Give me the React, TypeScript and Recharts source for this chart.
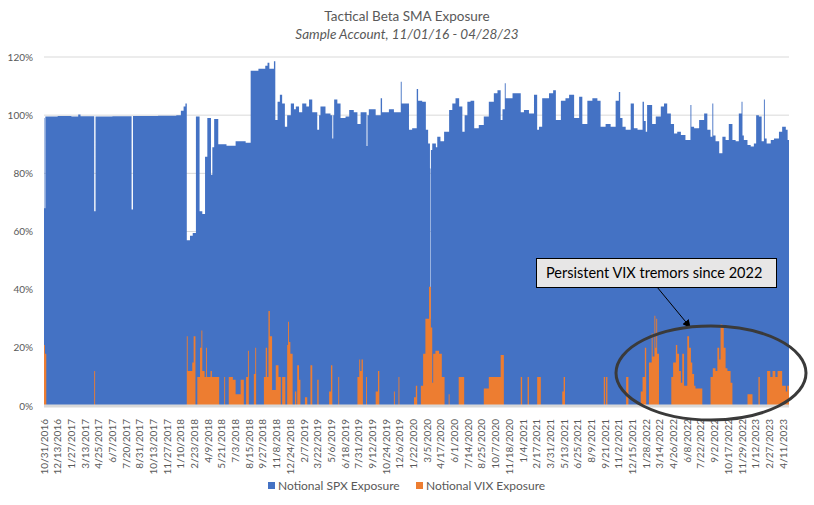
import React from 'react';
import {
  ComposedChart,
  Area,
  XAxis,
  YAxis,
  CartesianGrid
} from 'recharts';

// tick labels, one every 30 trading days
const tickLabels = [
  '10/31/2016', '12/13/2016', '1/27/2017', '3/13/2017', '4/25/2017', '6/7/2017', '7/20/2017',
  '8/31/2017', '10/13/2017', '11/27/2017', '1/10/2018', '2/23/2018', '4/9/2018', '5/21/2018',
  '7/3/2018', '8/15/2018', '9/27/2018', '11/8/2018', '12/24/2018', '2/7/2019', '3/22/2019',
  '5/6/2019', '6/18/2019', '7/31/2019', '9/12/2019', '10/24/2019', '12/6/2019', '1/22/2020',
  '3/5/2020', '4/17/2020', '6/1/2020', '7/14/2020', '8/25/2020', '10/7/2020', '11/18/2020',
  '1/4/2021', '2/17/2021', '3/31/2021', '5/13/2021', '6/25/2021', '8/9/2021', '9/21/2021',
  '11/2/2021', '12/15/2021', '1/28/2022', '3/14/2022', '4/26/2022', '6/8/2022', '7/22/2022',
  '9/2/2022', '10/17/2022', '11/29/2022', '1/12/2023', '2/27/2023', '4/11/2023'
];

// Notional SPX exposure (%), trading day index -> value (held until next point)
const spxDays = [
  0, 1, 3, 30, 60, 75, 80, 110, 113, 150, 192, 195, 250, 290, 300, 306, 310, 313, 320, 326,
  333, 341, 347, 353, 358, 366, 369, 373, 382, 400, 420, 442, 453, 470, 485, 490, 494, 504, 507, 512,
  517, 522, 528, 533, 541, 548, 552, 559, 566, 575, 581, 588, 599, 603, 606, 617, 628, 632, 634, 636,
  643, 650, 661, 669, 679, 687, 694, 707, 709, 712, 727, 738, 741, 745, 756, 767, 782, 784, 793, 800,
  807, 817, 820, 829, 837, 842, 846, 847, 848, 851, 859, 862, 869, 877, 888, 895, 902, 910, 917, 922,
  928, 935, 943, 953, 964, 975, 986, 994, 1001, 1005, 1010, 1012, 1027, 1038, 1045, 1052, 1063, 1074, 1081, 1085,
  1092, 1107, 1116, 1122, 1133, 1143, 1151, 1162, 1173, 1180, 1191, 1202, 1213, 1220, 1231, 1242, 1253, 1260, 1263, 1268,
  1275, 1286, 1293, 1301, 1312, 1315, 1319, 1322, 1333, 1341, 1352, 1359, 1366, 1374, 1381, 1388, 1396, 1406, 1417, 1419,
  1425, 1436, 1447, 1454, 1461, 1465, 1467, 1472, 1480, 1487, 1494, 1501, 1509, 1516, 1523, 1529, 1531, 1534, 1542, 1549,
  1556, 1561, 1567, 1573, 1578, 1580, 1584, 1593, 1600, 1611, 1618, 1626, 1630, 1633
];
const spxValues = [
  99, 68, 99.5, 99.7, 99.5, 100.2, 99.6, 67, 99.5, 99.6, 67.6, 99.7, 99.8, 100, 101.5, 103, 104, 57, 58.5, 59.5,
  99.5, 67, 66, 85.7, 99, 79.5, 89, 98.7, 90, 89.5, 91, 90.5, 115.3, 116, 117, 118, 116, 118.5, 98.3, 104.6,
  107, 104, 96, 100, 104, 102, 103, 101, 104, 103, 105.4, 101, 95, 100, 103, 100.6, 100, 92, 100, 105.4,
  104, 99, 99.5, 101.8, 101, 97, 101, 89.4, 100, 102, 100, 105.8, 101, 101, 102, 101, 111.5, 104, 104, 95,
  95.5, 109, 105, 104.6, 95, 90.3, 81.7, 30, 88, 90.3, 89, 92.6, 91, 94.3, 101.8, 104, 105.8, 103, 94.3, 100,
  104.6, 105, 95.5, 96.6, 99.5, 104.6, 107.5, 108.6, 98.3, 102, 111, 105.8, 107.5, 107.5, 101, 101.8, 100.6, 107, 95, 96,
  105.8, 107.5, 108.6, 98.3, 105, 105.8, 107, 99, 106.3, 97, 105, 105.8, 105, 96, 97, 96, 105, 108, 99, 96,
  95, 104, 95.5, 95, 104.6, 98, 94.3, 103.5, 97, 99.5, 103, 104, 100.6, 97, 93.7, 94.3, 93.2, 91.5, 103.5, 96,
  95.5, 98.3, 100.6, 95, 92.6, 104, 93, 91, 86.9, 92.6, 91.5, 97, 91.5, 91, 100.6, 104.6, 93, 91.5, 89.7, 89.2,
  90.3, 100, 99.5, 91, 105.4, 92, 90.3, 91.5, 92, 94.3, 96, 95, 91.5, 91.5
];

// Notional VIX exposure (%)
const vixDays = [
  0, 2, 5, 110, 112, 313, 315, 325, 328, 332, 336, 342, 345, 347, 352, 355, 357, 365, 368, 376,
  384, 395, 397, 405, 414, 420, 431, 438, 443, 447, 449, 460, 463, 465, 482, 486, 489, 492, 495, 500,
  508, 514, 519, 522, 529, 533, 535, 537, 540, 545, 550, 553, 555, 559, 562, 572, 577, 584, 588, 599,
  602, 625, 629, 632, 645, 647, 687, 691, 693, 696, 699, 706, 708, 727, 732, 735, 767, 769, 777, 779,
  811, 815, 818, 826, 831, 836, 844, 848, 851, 853, 858, 866, 872, 878, 887, 889, 909, 921, 964, 975,
  1001, 1008, 1045, 1048, 1060, 1063, 1081, 1089, 1136, 1139, 1142, 1227, 1230, 1232, 1235, 1276, 1281, 1308, 1312, 1317,
  1320, 1326, 1332, 1334, 1338, 1340, 1342, 1344, 1348, 1375, 1379, 1385, 1388, 1392, 1396, 1399, 1403, 1410, 1414, 1418,
  1421, 1425, 1428, 1443, 1461, 1466, 1472, 1476, 1480, 1483, 1487, 1490, 1494, 1498, 1505, 1509, 1542, 1553, 1566, 1569,
  1585, 1592, 1597, 1603, 1608, 1618, 1626, 1629, 1633
];
const vixValues = [
  21, 18, 0, 12, 0, 24, 12, 15, 24, 0, 10, 20, 26, 12, 10, 20, 10, 12, 10, 10,
  0, 10, 0, 10, 9, 4, 9, 0, 10, 19, 0, 11, 20, 0, 10, 20, 10, 32.7, 24, 5.5,
  14, 10, 0, 10, 0, 21, 29, 22, 18, 0, 5, 0, 14, 9, 0, 3, 0, 14, 0, 9,
  0, 5, 14, 0, 10, 0, 10, 16, 12, 16, 0, 10, 0, 5, 12, 0, 5, 0, 10, 0,
  3, 7, 0, 7, 18, 30, 41, 27, 8, 18, 19, 18, 10, 0, 4, 0, 10, 0, 6, 10,
  17.5, 0, 10, 0, 10, 0, 10, 0, 5, 10, 0, 10, 0, 10, 0, 10, 0, 5, 10, 20,
  0, 15, 25, 17, 31, 20, 30, 18, 0, 10, 15, 21, 18, 12, 8, 18, 7, 24, 20, 15,
  11, 7, 6, 0, 10, 13, 12, 20, 16, 28, 27, 20, 13, 12, 8, 0, 4, 0, 10, 0,
  12, 10, 12, 10, 12, 7, 5, 7, 7
];

const yTicks = [0, 20, 40, 60, 80, 100, 120];
const xTicks = tickLabels.map((_, i) => i * 30);

const holdAt = (days: number[], vals: number[], d: number) => {
  let v = vals[0];
  for (let i = 0; i < days.length; i++) {
    if (days[i] <= d) v = vals[i];
  }
  return v;
};

const chartData = Array.from(new Set([...spxDays, ...vixDays]))
  .sort((a, b) => a - b)
  .map(d => ({
    day: d,
    spx: holdAt(spxDays, spxValues, d),
    vix: holdAt(vixDays, vixValues, d)
  }));

const FONT = 'Lato, "Open Sans", sans-serif';

const DateTick = (props: any) => {
  const { x, y, payload } = props;
  return (
    <g transform={`translate(${x},${y})`}>
      <text
        transform="rotate(-90)"
        x={-5}
        y={0}
        dy={3.5}
        textAnchor="end"
        fontSize={10}
        fontFamily={FONT}
        fill="#595959"
      >
        {tickLabels[Math.round(payload.value / 30)]}
      </text>
    </g>
  );
};

export default function App() {
  return (
    <div style={{ position: 'absolute', left: 0, top: 0, width: 814, height: 505, background: '#fff', fontFamily: FONT }}>
      <div style={{ position: 'absolute', top: 8, left: 0, width: 814, textAlign: 'center', fontSize: 13.5, color: '#595959' }}>
        Tactical Beta SMA Exposure
      </div>
      <div style={{ position: 'absolute', top: 26, left: 0, width: 814, textAlign: 'center', fontSize: 13.5, color: '#595959', fontStyle: 'italic' }}>
        Sample Account, 11/01/16 - 04/28/23
      </div>

      <ComposedChart
        width={814}
        height={505}
        data={chartData}
        margin={{ top: 57, right: 25, left: 0, bottom: 0 }}
      >
        <CartesianGrid horizontal vertical={false} stroke="#d9d9d9" />
        <XAxis
          dataKey="day"
          type="number"
          domain={[0, 1633]}
          ticks={xTicks}
          interval={0}
          tick={<DateTick />}
          tickLine={false}
          axisLine={{ stroke: '#d9d9d9', strokeWidth: 3 }}
          height={99}
        />
        <YAxis
          domain={[0, 120]}
          ticks={yTicks}
          tickFormatter={(v: number) => `${v}%`}
          width={44}
          tickLine={false}
          axisLine={false}
          tickSize={0}
          tickMargin={11}
          tick={{ fontSize: 10, fill: '#595959', fontFamily: FONT }}
        />
        <Area
          type="stepAfter"
          dataKey="spx"
          stroke="none"
          fill="#4472c4"
          fillOpacity={1}
          isAnimationActive={false}
        />
        <Area
          type="stepAfter"
          dataKey="vix"
          stroke="none"
          fill="#ed7d31"
          fillOpacity={1}
          isAnimationActive={false}
        />
      </ComposedChart>

      {/* annotation */}
      <svg width={814} height={505} style={{ position: 'absolute', left: 0, top: 0, pointerEvents: 'none' }}>
        <defs>
          <marker id="arrowHead" markerWidth="8" markerHeight="8" refX="7" refY="4" orient="auto">
            <path d="M0,0 L8,4 L0,8 Z" fill="#000" />
          </marker>
        </defs>
        <rect x={536.5} y={258.5} width={240} height={29} fill="#e7e6e6" stroke="#000" strokeWidth={1} />
        <text x={546} y={278} fontSize={14.5} fontFamily={FONT} fill="#000">
          Persistent VIX tremors since 2022
        </text>
        <line x1={657} y1={287} x2={690} y2={327} stroke="#000" strokeWidth={1} markerEnd="url(#arrowHead)" />
        <ellipse cx={711} cy={373} rx={95} ry={47} fill="none" stroke="#3a3a3a" strokeWidth={3} />
      </svg>

      {/* legend */}
      <div style={{ position: 'absolute', top: 478, left: 268, display: 'flex', alignItems: 'center', fontSize: 12, color: '#595959' }}>
        <span style={{ width: 7, height: 7, background: '#4472c4', display: 'inline-block', marginRight: 3 }} />
        Notional SPX Exposure
      </div>
      <div style={{ position: 'absolute', top: 478, left: 416, display: 'flex', alignItems: 'center', fontSize: 12, color: '#595959' }}>
        <span style={{ width: 7, height: 7, background: '#ed7d31', display: 'inline-block', marginRight: 3 }} />
        Notional VIX Exposure
      </div>
    </div>
  );
}
